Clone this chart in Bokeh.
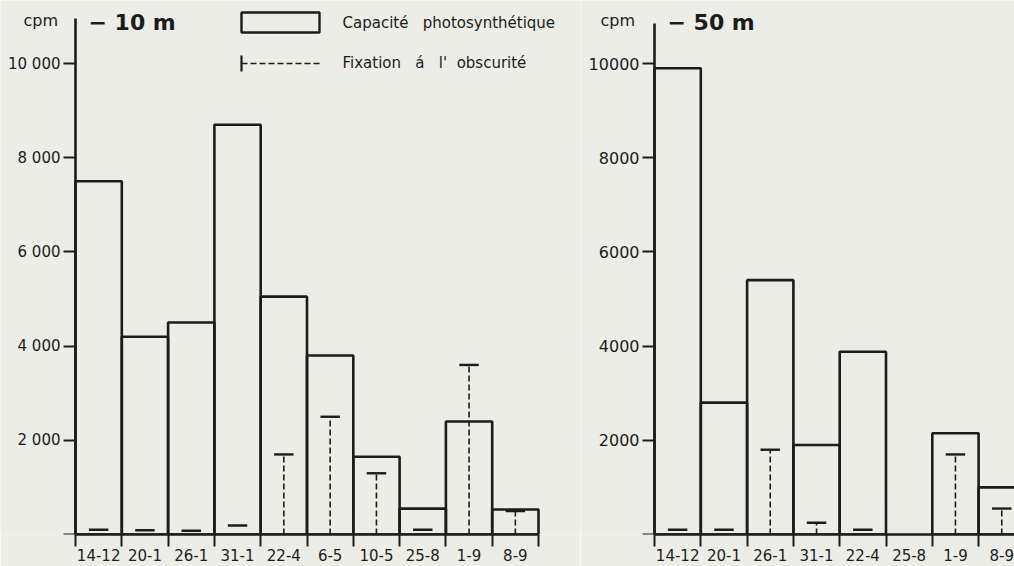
import math
from bokeh.plotting import figure
from bokeh.layouts import row
from bokeh.models import FixedTicker, Range1d, Label, BoxAnnotation
from bokeh.embed import file_html
from bokeh.resources import INLINE

# ---------------- data ----------------
left_dates = ["14-12", "20-1", "26-1", "31-1", "22-4", "6-5", "10-5", "25-8", "1-9", "8-9"]
left_capacity = [7500, 4200, 4500, 8700, 5050, 3800, 1650, 550, 2400, 530]
left_fixation = [100, 90, 80, 190, 1700, 2500, 1300, 100, 3600, 500]

right_dates = ["14-12", "20-1", "26-1", "31-1", "22-4", "25-8", "1-9", "8-9"]
right_capacity = [9900, 2800, 5400, 1900, 3880, float("nan"), 2150, 1000]
right_fixation = [100, 100, 1800, 250, 100, float("nan"), 1700, 550]

y_ticks = [0, 2000, 4000, 6000, 8000, 10000]
left_ytick_labels = ["", "2 000", "4 000", "6 000", "8 000", "10 000"]
right_ytick_labels = ["", "2000", "4000", "6000", "8000", "10000"]

left_title = "\u2212 10 m"
right_title = "\u2212 50 m"
unit_label = "cpm"
legend_capacity = "Capacit\u00e9\u00a0\u00a0 photosynth\u00e9tique"
legend_fixation = "Fixation\u00a0\u00a0 \u00e1\u00a0\u00a0 l'\u00a0 obscurit\u00e9"

# ---------------- style / layout ----------------
PAPER = "#ecede6"
INK = "#1c1c1c"
FONT = "DejaVu Sans"
HEIGHT = 566
BASE_PX = 534                      # baseline (value 0), from the top
BORDER_BOTTOM = HEIGHT - BASE_PX
PX_PER_BAR = 46.3
PX_PER_1000 = 47.1
Y_END = BASE_PX / PX_PER_1000 * 1000.0


def to_x(px, axis_px):
    return (px - axis_px) / PX_PER_BAR


def to_y(py):
    return (BASE_PX - py) / PX_PER_1000 * 1000.0


def make_panel(width, page_left, axis_px, dates, capacity, fixation, ylabels,
               axis_top_px, ylab_size):
    x_start = (page_left - axis_px) / PX_PER_BAR
    x_end = (page_left + width - axis_px) / PX_PER_BAR
    p = figure(width=width, height=HEIGHT, output_backend="svg", toolbar_location=None,
               x_range=Range1d(x_start, x_end), y_range=Range1d(0, Y_END),
               min_border_left=0, min_border_right=0,
               min_border_top=0, min_border_bottom=BORDER_BOTTOM)
    p.background_fill_color = PAPER
    p.border_fill_color = PAPER
    p.outline_line_color = None
    p.grid.visible = False

    n = len(dates)
    idx = list(range(n))
    centers = [i + 0.5 for i in idx]

    bl = [i for i in idx if not math.isnan(capacity[i])]
    p.quad(left=bl, right=[i + 1 for i in bl], bottom=[0] * len(bl),
           top=[capacity[i] for i in bl],
           fill_color=None, line_color=INK, line_width=2.6)

    fl = [i for i in idx if not math.isnan(fixation[i])]
    stem = [i for i in fl if fixation[i] > 200]
    p.segment(x0=[centers[i] for i in stem], y0=[0] * len(stem),
              x1=[centers[i] for i in stem], y1=[fixation[i] for i in stem],
              line_color=INK, line_width=1.6, line_dash="6 3")
    cap = 0.21
    p.segment(x0=[centers[i] - cap for i in fl], y0=[fixation[i] for i in fl],
              x1=[centers[i] + cap for i in fl], y1=[fixation[i] for i in fl],
              line_color=INK, line_width=2.4)

    xa = p.xaxis[0]
    xa.ticker = FixedTicker(ticks=centers, minor_ticks=list(range(n + 1)))
    xa.major_label_overrides = {c: d for c, d in zip(centers, dates)}
    xa.major_tick_line_color = None
    xa.major_tick_out = 0
    xa.major_tick_in = 0
    xa.minor_tick_out = 12
    xa.minor_tick_in = 0
    xa.minor_tick_line_color = INK
    xa.minor_tick_line_width = 2
    xa.axis_line_color = INK
    xa.axis_line_width = 2.6
    xa.bounds = (0, n)
    xa.major_label_standoff = 2
    xa.major_label_text_font = FONT
    xa.major_label_text_font_size = "15px"
    xa.major_label_text_color = INK

    ya = p.yaxis[0]
    ya.fixed_location = 0
    ya.ticker = FixedTicker(ticks=y_ticks, minor_ticks=[])
    ya.major_label_overrides = {t: l for t, l in zip(y_ticks, ylabels)}
    ya.major_tick_out = 12
    ya.major_tick_in = 0
    ya.major_tick_line_color = INK
    ya.major_tick_line_width = 2
    ya.minor_tick_line_color = None
    ya.axis_line_color = INK
    ya.axis_line_width = 2.6
    ya.bounds = (0, to_y(axis_top_px))
    ya.major_label_standoff = 3
    ya.major_label_text_font = FONT
    ya.major_label_text_font_size = ylab_size
    ya.major_label_text_color = INK
    return p


def add_label(p, x, y, text, size, bold=False):
    p.add_layout(Label(x=x, y=y, text=text, text_font=FONT, text_font_size=size,
                       text_font_style="bold" if bold else "normal",
                       text_color=INK, text_align="left", text_baseline="middle"))


# left panel: page x 0 -> 580, y-axis at page x 75
LA = 75
p1 = make_panel(580, 0, LA, left_dates, left_capacity, left_fixation,
                left_ytick_labels, 18, "15px")
add_label(p1, to_x(23, LA), to_y(20), unit_label, "16px")
add_label(p1, to_x(88, LA), to_y(22), left_title, "22px", bold=True)

# legend (drawn by hand, as in the original)
p1.add_layout(BoxAnnotation(left=to_x(241, LA), right=to_x(319, LA),
                            top=to_y(12), bottom=to_y(32),
                            fill_alpha=0, line_color=INK, line_alpha=1.0, line_width=2.4))
p1.segment(x0=[to_x(241, LA)], y0=[to_y(55)], x1=[to_x(241, LA)], y1=[to_y(71)],
           line_color=INK, line_width=2.2)
p1.segment(x0=[to_x(241, LA)], y0=[to_y(63)], x1=[to_x(319, LA)], y1=[to_y(63)],
           line_color=INK, line_width=1.6, line_dash="6 3")
add_label(p1, to_x(342, LA), to_y(22), legend_capacity, "15px")
add_label(p1, to_x(342, LA), to_y(62), legend_fixation, "15px")

# right panel: page x 580 -> 1014, y-axis at page x 654
RA = 654
p2 = make_panel(434, 580, RA, right_dates, right_capacity, right_fixation,
                right_ytick_labels, 23, "16px")
add_label(p2, to_x(600, RA), to_y(20), unit_label, "16px")
add_label(p2, to_x(667, RA), to_y(22), right_title, "22px", bold=True)

layout = row(p1, p2)
open("out.html", "w").write(file_html(layout, INLINE))
